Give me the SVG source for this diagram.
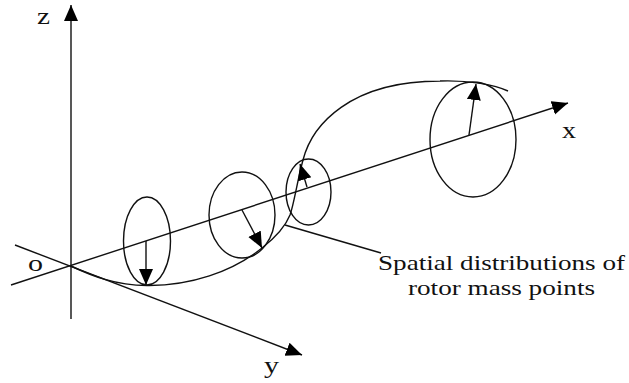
<svg xmlns="http://www.w3.org/2000/svg" width="629" height="383" viewBox="0 0 629 383">
<style>
.l{fill:none;stroke:#111;stroke-width:1.4}
.a{fill:none;stroke:#111;stroke-width:1.4;marker-end:url(#h)}
text{font-family:"Liberation Serif","Times New Roman",serif;font-size:21px;fill:#111}
.s{font-size:23px}
</style>
<defs>
<marker id="h" markerUnits="userSpaceOnUse" markerWidth="17" markerHeight="15" refX="16" refY="7" orient="auto"><path d="M0 0L16 7L0 14Z" fill="#000"/></marker>
</defs>
<rect width="629" height="383" fill="#fff"/>
<g id="connectors">
<path class="a" d="M71 319V5"/>
<path class="a" d="M11 285L568 103"/>
<path class="a" d="M15 245L302 355"/>
<path class="l" d="M71 266C92 276 115 285 147 285.500C190 286 232 272 262 248C276 237 286 225 290 215C294 204 297 182 303 160C312 125 350 81 440 81C470 80 495 85 508 91"/>
<path class="a" d="M146 241V285"/>
<path class="a" d="M242 210L262 248"/>
<path class="a" d="M307 187L300 164"/>
<path class="a" d="M469 135L476 84"/>
<path class="l" d="M285 225L381 253"/>
</g>
<g id="ring1"><ellipse class="l" cx="147" cy="241" rx="23.500" ry="44"/></g>
<g id="ring2"><ellipse class="l" cx="242" cy="215" rx="33" ry="43"/></g>
<g id="ring3"><ellipse class="l" cx="308.500" cy="192" rx="22.500" ry="33"/></g>
<g id="ring4"><ellipse class="l" cx="473" cy="139.500" rx="43" ry="57.500"/></g>
<g id="labels">
<text class="s" x="37" y="24" textLength="13" lengthAdjust="spacingAndGlyphs">z</text>
<text class="s" x="28" y="271" textLength="15" lengthAdjust="spacingAndGlyphs">o</text>
<text class="s" x="264" y="373" textLength="15" lengthAdjust="spacingAndGlyphs">y</text>
<text class="s" x="562" y="138" textLength="14" lengthAdjust="spacingAndGlyphs">x</text>
<text x="378" y="270" textLength="247" lengthAdjust="spacingAndGlyphs">Spatial distributions of</text>
<text x="408" y="295" textLength="187" lengthAdjust="spacingAndGlyphs">rotor mass points</text>
</g>
</svg>
